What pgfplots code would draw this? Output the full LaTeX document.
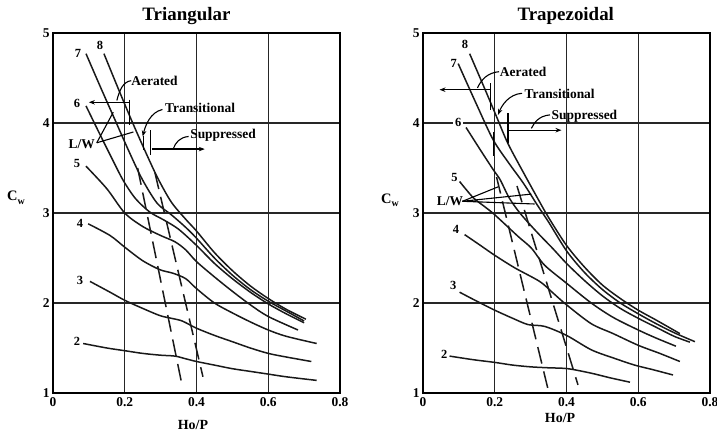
\documentclass[border=0pt]{standalone}
\usepackage{fontspec}
\setmainfont{Liberation Serif}
\usepackage{pgfplots}
\pgfplotsset{compat=1.18}
\usetikzlibrary{arrows.meta}
\pgfplotsset{
  chart/.style={
    scale only axis, x=358.75bp, y=90bp,
    xmin=0, xmax=0.8, ymin=1, ymax=5,
    xtick={0,0.2,0.4,0.6,0.8}, ytick={1,2,3,4,5},
    grid=major, major grid style={black!85, line width=1.1bp},
    axis line style={line width=2bp},
    major tick length=0pt,
    ticklabel style={font=\fontsize{13.5}{13.5}\selectfont\bfseries},
    xticklabel style={yshift=-1bp},
    /pgf/number format/assume math mode=true,
    clip=false, anchor=south west,
    every axis plot/.append style={line width=1.5bp, black!90, no marks},
  },
  curve/.style={smooth, tension=0.5},
  dsh/.style={dash pattern=on 17bp off 8bp},
}
\tikzset{
  lab/.style={font=\fontsize{12.5}{13}\selectfont\bfseries, inner sep=1bp},
  ann/.style={font=\fontsize{13.5}{13.5}\selectfont\bfseries, inner sep=0pt},
  ldr/.style={line width=1.1bp, black},
  arr/.style={line width=1.2bp, black, -{Stealth[length=6bp,width=4.5bp]}},
}
\begin{document}
\begin{tikzpicture}
\useasboundingbox (0,0) rectangle (717bp,439bp);
% ---------------- Triangular ----------------
\begin{axis}[chart, at={(53bp,46bp)}]
\addplot[curve] coordinates {(0.084,1.55)(0.15,1.50)(0.2,1.47)(0.25,1.44)(0.3,1.42)(0.34,1.41)(0.37,1.38)(0.4,1.35)(0.45,1.31)(0.5,1.27)(0.55,1.24)(0.6,1.21)(0.65,1.18)(0.735,1.14)};
\addplot[curve] coordinates {(0.103,2.24)(0.159,2.12)(0.2,2.03)(0.25,1.94)(0.298,1.86)(0.33,1.83)(0.36,1.80)(0.4,1.72)(0.45,1.64)(0.5,1.57)(0.55,1.50)(0.6,1.44)(0.65,1.40)(0.72,1.35)};
\addplot[curve] coordinates {(0.098,2.88)(0.159,2.75)(0.2,2.62)(0.25,2.47)(0.298,2.37)(0.335,2.33)(0.37,2.27)(0.4,2.16)(0.45,2.0)(0.5,1.89)(0.55,1.79)(0.6,1.70)(0.65,1.63)(0.735,1.55)};
\addplot[curve] coordinates {(0.092,3.52)(0.15,3.27)(0.2,3.0)(0.25,2.85)(0.3,2.75)(0.34,2.68)(0.37,2.59)(0.4,2.46)(0.45,2.29)(0.5,2.13)(0.55,1.98)(0.6,1.85)(0.683,1.70)};
\addplot[curve] coordinates {(0.092,4.19)(0.13,3.88)(0.165,3.60)(0.196,3.36)(0.23,3.16)(0.27,3.01)(0.31,2.92)(0.35,2.82)(0.4,2.64)(0.45,2.44)(0.5,2.27)(0.55,2.12)(0.6,1.99)(0.65,1.88)(0.70,1.78)};
\addplot[curve] coordinates {(0.092,4.77)(0.13,4.42)(0.17,4.06)(0.21,3.70)(0.248,3.38)(0.29,3.11)(0.33,2.98)(0.37,2.84)(0.4,2.72)(0.45,2.50)(0.5,2.31)(0.55,2.15)(0.6,2.02)(0.65,1.91)(0.70,1.80)};
\addplot[curve] coordinates {(0.142,4.77)(0.18,4.40)(0.22,4.02)(0.26,3.66)(0.293,3.38)(0.33,3.12)(0.37,2.93)(0.4,2.80)(0.45,2.56)(0.5,2.36)(0.55,2.19)(0.6,2.05)(0.65,1.93)(0.705,1.82)};
\addplot[dsh] coordinates {(0.236,3.50)(0.357,1.14)};
\addplot[dsh] coordinates {(0.284,3.45)(0.418,1.18)};
% labels
\node[lab] at (0.131,4.86) {8};
\node[lab] at (0.070,4.77) {7};
\node[lab] at (0.067,4.22) {6};
\node[lab] at (0.067,3.55) {5};
\node[lab] at (0.075,2.88) {4};
\node[lab] at (0.075,2.25) {3};
\node[lab] at (0.067,1.57) {2};
% annotations
\draw[arr] (0.214,4.23) -- (0.100,4.23);
\draw[ldr, line width=1.2bp] (0.214,4.26) -- (0.214,3.98);
\node[ann] at (0.283,4.47) {Aerated};
\draw[ldr] (0.218,4.47) .. controls (0.195,4.46) and (0.185,4.36) .. (0.178,4.25);
\node[ann] at (0.410,4.17) {Transitional};
\draw[arr, line width=1.1bp] (0.305,4.15) .. controls (0.272,4.12) and (0.258,3.98) .. (0.250,3.85);
\draw[ldr, line width=1.2bp] (0.252,3.86) -- (0.252,3.70);
\node[ann] at (0.474,3.86) {Suppressed};
\draw[ldr] (0.378,3.85) .. controls (0.352,3.84) and (0.342,3.78) .. (0.336,3.72);
\draw[arr] (0.276,3.71) -- (0.423,3.71);
\draw[ldr, line width=1.2bp] (0.272,3.92) -- (0.272,3.64);
\node[ann] at (0.080,3.77) {L/W};
\draw[ldr] (0.122,3.78) -- (0.168,4.12);
\draw[ldr] (0.122,3.78) -- (0.224,3.90);
% axis labels
\node[font=\fontsize{19}{19}\selectfont\bfseries] at (0.372,5.19) {Triangular};
\node[font=\fontsize{14}{14}\selectfont\bfseries] at (0.39,0.645) {Ho/P};
\node[font=\fontsize{14.5}{14.5}\selectfont\bfseries] at (-0.103,3.17) {C\raisebox{-0.5ex}{\fontsize{10}{10}\selectfont w}};
\end{axis}
% ---------------- Trapezoidal ----------------
\begin{axis}[chart, at={(423bp,46bp)}]
\addplot[curve] coordinates {(0.074,1.41)(0.14,1.37)(0.2,1.34)(0.25,1.31)(0.302,1.29)(0.35,1.28)(0.404,1.27)(0.469,1.22)(0.52,1.17)(0.577,1.12)};
\addplot[curve] coordinates {(0.102,2.12)(0.15,2.02)(0.2,1.92)(0.25,1.83)(0.293,1.76)(0.339,1.74)(0.4,1.64)(0.469,1.48)(0.53,1.39)(0.59,1.31)(0.64,1.26)(0.697,1.20)};
\addplot[curve] coordinates {(0.116,2.76)(0.16,2.64)(0.2,2.53)(0.256,2.39)(0.325,2.24)(0.36,2.12)(0.4,1.98)(0.469,1.77)(0.53,1.66)(0.6,1.53)(0.66,1.44)(0.716,1.35)};
\addplot[curve] coordinates {(0.102,3.35)(0.14,3.17)(0.172,3.07)(0.2,2.98)(0.265,2.74)(0.302,2.61)(0.339,2.42)(0.4,2.22)(0.469,2.0)(0.53,1.84)(0.6,1.70)(0.65,1.61)(0.705,1.52)};
\addplot[curve] coordinates {(0.12,3.95)(0.16,3.70)(0.196,3.48)(0.215,3.37)(0.24,3.17)(0.27,3.0)(0.317,2.79)(0.363,2.60)(0.4,2.44)(0.45,2.25)(0.5,2.08)(0.55,1.94)(0.6,1.83)(0.65,1.73)(0.7,1.63)(0.744,1.565)};
\addplot[curve] coordinates {(0.098,4.66)(0.15,4.20)(0.196,3.81)(0.24,3.55)(0.28,3.33)(0.32,3.08)(0.35,2.90)(0.4,2.58)(0.45,2.34)(0.5,2.15)(0.55,2.00)(0.6,1.88)(0.65,1.77)(0.7,1.67)(0.758,1.57)};
\addplot[curve] coordinates {(0.13,4.77)(0.17,4.40)(0.205,4.07)(0.237,3.77)(0.284,3.42)(0.32,3.16)(0.35,2.95)(0.4,2.64)(0.45,2.40)(0.5,2.20)(0.55,2.05)(0.6,1.92)(0.65,1.81)(0.716,1.66)};
\addplot[dsh] coordinates {(0.205,3.40)(0.348,1.05)};
\addplot[dsh] coordinates {(0.262,3.30)(0.432,1.09)};
% labels
\node[lab] at (0.117,4.87) {8};
\node[lab] at (0.086,4.66) {7};
\node[lab, fill=white, inner xsep=2bp] at (0.098,4.01) {6};
\node[lab] at (0.088,3.40) {5};
\node[lab] at (0.092,2.82) {4};
\node[lab] at (0.084,2.19) {3};
\node[lab] at (0.059,1.43) {2};
% annotations
\draw[arr] (0.186,4.37) -- (0.046,4.37);
\draw[ldr, line width=1.2bp] (0.189,4.44) -- (0.189,4.14);
\node[ann] at (0.279,4.57) {Aerated};
\draw[ldr] (0.212,4.57) .. controls (0.18,4.56) and (0.162,4.48) .. (0.152,4.39);
\node[ann] at (0.381,4.32) {Transitional};
\draw[arr, line width=1.1bp] (0.276,4.33) .. controls (0.24,4.32) and (0.22,4.2) .. (0.209,4.09);
\draw[ldr, line width=1.2bp] (0.196,3.90) -- (0.196,3.63);
\node[ann] at (0.450,4.08) {Suppressed};
\draw[ldr] (0.354,4.09) .. controls (0.322,4.08) and (0.31,4.0) .. (0.302,3.94);
\draw[arr] (0.241,3.92) -- (0.386,3.92);
\draw[ldr, line width=1.2bp] (0.237,4.11) -- (0.237,3.78);
\node[ann] at (0.075,3.13) {L/W};
\draw[ldr] (0.110,3.13) -- (0.209,3.29);
\draw[ldr] (0.110,3.13) -- (0.302,3.21);
\draw[ldr] (0.110,3.13) -- (0.311,3.10);
% axis labels
\node[font=\fontsize{19}{19}\selectfont\bfseries] at (0.398,5.19) {Trapezoidal};
\node[font=\fontsize{14}{14}\selectfont\bfseries] at (0.382,0.72) {Ho/P};
\node[font=\fontsize{14.5}{14.5}\selectfont\bfseries] at (-0.092,3.14) {C\raisebox{-0.5ex}{\fontsize{10}{10}\selectfont w}};
\end{axis}
\end{tikzpicture}
\end{document}
